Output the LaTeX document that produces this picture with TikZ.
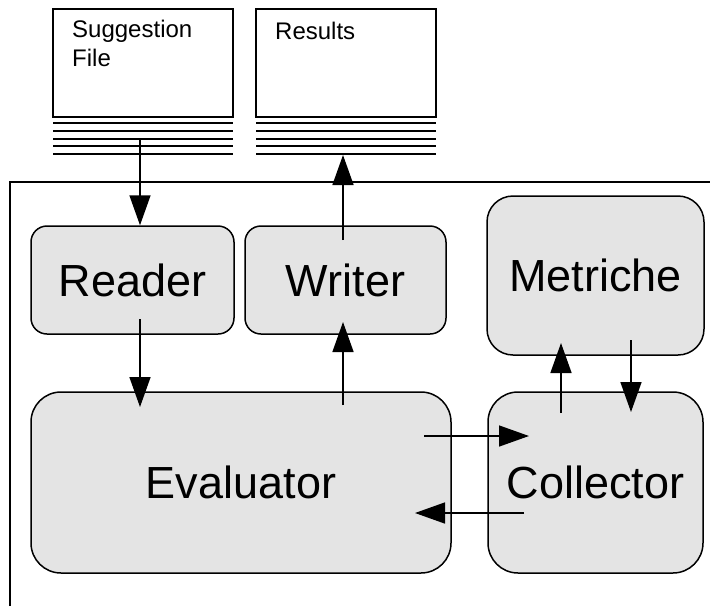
\documentclass[tikz,border=0pt]{standalone}
\usepackage{fontspec}
\setmainfont{Liberation Sans}
\usetikzlibrary{arrows.meta}
\definecolor{boxgray}{HTML}{E4E4E4}
\begin{document}
\begin{tikzpicture}[x=1pt,y=-1pt,
  proc/.style={draw=black, line width=1.5pt, fill=boxgray, inner sep=0pt,
    font=\fontsize{45}{54}\selectfont},
  docbox/.style={draw=black, line width=1.5pt, fill=white, inner sep=0pt,
    minimum width=180pt, minimum height=108pt},
  doctext/.style={anchor=base west, inner sep=0pt, font=\fontsize{24}{28}\selectfont},
  stack/.style={line width=1.5pt},
  flow/.style={line width=1.5pt, -{Triangle[length=30pt,width=21pt]}},
]
\useasboundingbox (0,0) rectangle (710,606);

% enclosing frame (only left and top edges are visible)
\coordinate (fbl) at (10,606);
\coordinate (ftl) at (10,182);
\coordinate (ftr) at (710,182);
\draw[line width=1.5pt] (fbl) -- (ftl) -- (ftr);

% input / output files
\node[docbox] (sugg) at (143,63) {};
\node[doctext] (suggt1) at (72,37) {Suggestion};
\node[doctext] (suggt2) at (72,66) {File};
\node[docbox] (res) at (346,63) {};
\node[doctext] (rest) at (275,39) {Results};
\foreach \yy in {123,131,139,146,154} {
  \draw[stack] (53,\yy) -- (233,\yy);
  \draw[stack] (256,\yy) -- (436,\yy);
}

% processing blocks
\node[proc, rounded corners=16pt, minimum width=203pt, minimum height=108pt] (reader) at (132.5,280) {Reader};
\node[proc, rounded corners=16pt, minimum width=201pt, minimum height=108pt] (writer) at (345.5,280) {Writer};
\node[proc, rounded corners=26pt, minimum width=217pt, minimum height=159pt] (metriche) at (595.5,275.5) {Metriche};
\node[proc, rounded corners=30pt, minimum width=420pt, minimum height=181pt] (evaluator) at (241,482.5) {Evaluator};
\node[proc, rounded corners=30pt, minimum width=215pt, minimum height=181pt] (collector) at (595.5,482.5) {Collector};

% connector end points
\coordinate (suggout) at (140,139);
\coordinate (readout) at (140,319);
\coordinate (evalin) at (140,407);
\coordinate (evalout) at (343,405);
\coordinate (writin) at (343,322);
\coordinate (writout) at (343,240);
\coordinate (resin) at (343,155);
\coordinate (collup) at (561,413);
\coordinate (metin) at (561,343);
\coordinate (metout) at (631,340);
\coordinate (collin) at (631,412);
\coordinate (evalright) at (424,436);
\coordinate (collleft) at (529,436);
\coordinate (collback) at (524,513);
\coordinate (evalback) at (415,513);

% data flow
\draw[flow] (suggout) -- (suggout |- reader.north);
\draw[flow] (readout) -- (evalin);
\draw[flow] (evalout) -- (writin);
\draw[flow] (writout) -- (resin);
\draw[flow] (collup) -- (metin);
\draw[flow] (metout) -- (collin);
\draw[flow] (evalright) -- (collleft);
\draw[flow] (collback) -- (evalback);
\end{tikzpicture}
\end{document}
